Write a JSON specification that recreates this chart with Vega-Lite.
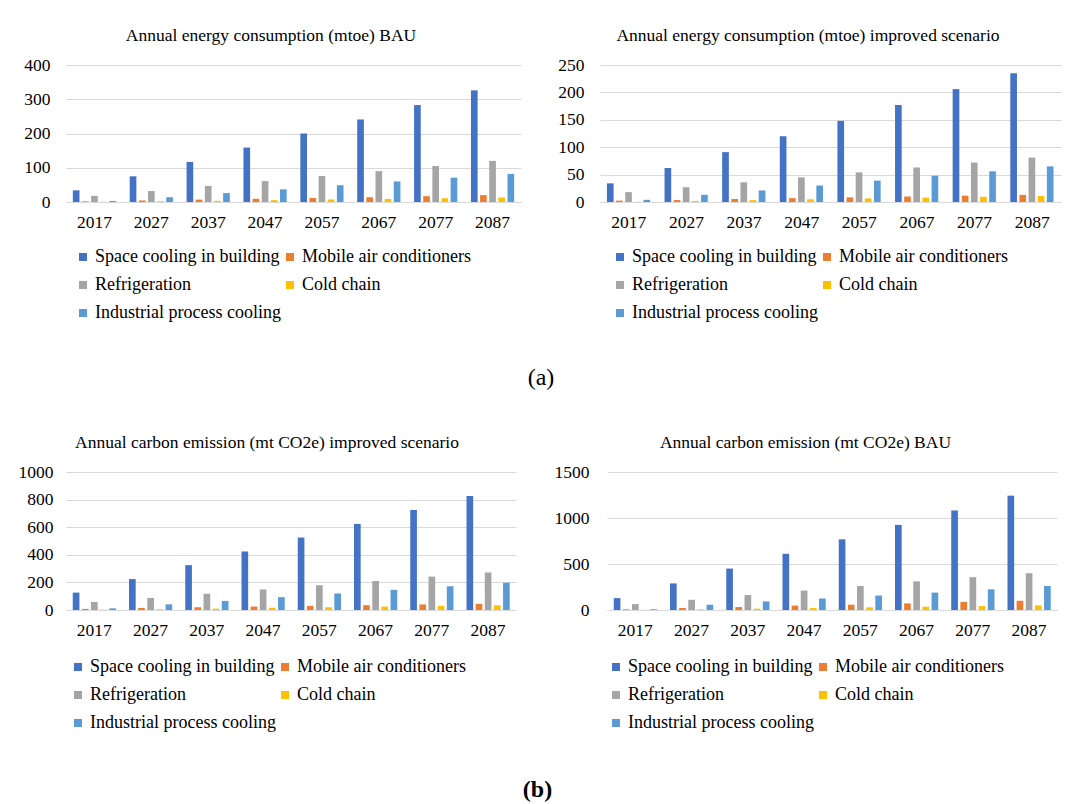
{
  "$schema": "https://vega.github.io/schema/vega-lite/v6.json",
  "background": "white",
  "padding": {"left": 18, "top": 26, "right": 6, "bottom": 0},
  "datasets": {
    "bau_energy": [
      {"year": "2017", "cat": "Space cooling in building", "v": 34}, {"year": "2027", "cat": "Space cooling in building", "v": 75}, {"year": "2037", "cat": "Space cooling in building", "v": 117}, {"year": "2047", "cat": "Space cooling in building", "v": 159}, {"year": "2057", "cat": "Space cooling in building", "v": 200}, {"year": "2067", "cat": "Space cooling in building", "v": 241}, {"year": "2077", "cat": "Space cooling in building", "v": 283}, {"year": "2087", "cat": "Space cooling in building", "v": 326},
      {"year": "2017", "cat": "Mobile air conditioners", "v": 2}, {"year": "2027", "cat": "Mobile air conditioners", "v": 4.5}, {"year": "2037", "cat": "Mobile air conditioners", "v": 7}, {"year": "2047", "cat": "Mobile air conditioners", "v": 9.5}, {"year": "2057", "cat": "Mobile air conditioners", "v": 12}, {"year": "2067", "cat": "Mobile air conditioners", "v": 14}, {"year": "2077", "cat": "Mobile air conditioners", "v": 17}, {"year": "2087", "cat": "Mobile air conditioners", "v": 20},
      {"year": "2017", "cat": "Refrigeration", "v": 18}, {"year": "2027", "cat": "Refrigeration", "v": 32}, {"year": "2037", "cat": "Refrigeration", "v": 47}, {"year": "2047", "cat": "Refrigeration", "v": 61}, {"year": "2057", "cat": "Refrigeration", "v": 76}, {"year": "2067", "cat": "Refrigeration", "v": 90}, {"year": "2077", "cat": "Refrigeration", "v": 105}, {"year": "2087", "cat": "Refrigeration", "v": 120},
      {"year": "2017", "cat": "Cold chain", "v": 0.5}, {"year": "2027", "cat": "Cold chain", "v": 2}, {"year": "2037", "cat": "Cold chain", "v": 3.5}, {"year": "2047", "cat": "Cold chain", "v": 5.5}, {"year": "2057", "cat": "Cold chain", "v": 7.5}, {"year": "2067", "cat": "Cold chain", "v": 9}, {"year": "2077", "cat": "Cold chain", "v": 11}, {"year": "2087", "cat": "Cold chain", "v": 13},
      {"year": "2017", "cat": "Industrial process cooling", "v": 3}, {"year": "2027", "cat": "Industrial process cooling", "v": 14}, {"year": "2037", "cat": "Industrial process cooling", "v": 26}, {"year": "2047", "cat": "Industrial process cooling", "v": 37}, {"year": "2057", "cat": "Industrial process cooling", "v": 49}, {"year": "2067", "cat": "Industrial process cooling", "v": 60}, {"year": "2077", "cat": "Industrial process cooling", "v": 71}, {"year": "2087", "cat": "Industrial process cooling", "v": 82}
    ],
    "imp_energy": [
      {"year": "2017", "cat": "Space cooling in building", "v": 34}, {"year": "2027", "cat": "Space cooling in building", "v": 62}, {"year": "2037", "cat": "Space cooling in building", "v": 91}, {"year": "2047", "cat": "Space cooling in building", "v": 120}, {"year": "2057", "cat": "Space cooling in building", "v": 148}, {"year": "2067", "cat": "Space cooling in building", "v": 177}, {"year": "2077", "cat": "Space cooling in building", "v": 206}, {"year": "2087", "cat": "Space cooling in building", "v": 235},
      {"year": "2017", "cat": "Mobile air conditioners", "v": 2.5}, {"year": "2027", "cat": "Mobile air conditioners", "v": 3.5}, {"year": "2037", "cat": "Mobile air conditioners", "v": 5.5}, {"year": "2047", "cat": "Mobile air conditioners", "v": 7}, {"year": "2057", "cat": "Mobile air conditioners", "v": 8.5}, {"year": "2067", "cat": "Mobile air conditioners", "v": 10}, {"year": "2077", "cat": "Mobile air conditioners", "v": 11.5}, {"year": "2087", "cat": "Mobile air conditioners", "v": 13},
      {"year": "2017", "cat": "Refrigeration", "v": 18}, {"year": "2027", "cat": "Refrigeration", "v": 27}, {"year": "2037", "cat": "Refrigeration", "v": 36}, {"year": "2047", "cat": "Refrigeration", "v": 45}, {"year": "2057", "cat": "Refrigeration", "v": 54}, {"year": "2067", "cat": "Refrigeration", "v": 63}, {"year": "2077", "cat": "Refrigeration", "v": 72}, {"year": "2087", "cat": "Refrigeration", "v": 81},
      {"year": "2017", "cat": "Cold chain", "v": 0.5}, {"year": "2027", "cat": "Cold chain", "v": 2}, {"year": "2037", "cat": "Cold chain", "v": 3.5}, {"year": "2047", "cat": "Cold chain", "v": 5}, {"year": "2057", "cat": "Cold chain", "v": 6.5}, {"year": "2067", "cat": "Cold chain", "v": 8}, {"year": "2077", "cat": "Cold chain", "v": 9.5}, {"year": "2087", "cat": "Cold chain", "v": 11},
      {"year": "2017", "cat": "Industrial process cooling", "v": 4}, {"year": "2027", "cat": "Industrial process cooling", "v": 13}, {"year": "2037", "cat": "Industrial process cooling", "v": 21}, {"year": "2047", "cat": "Industrial process cooling", "v": 30}, {"year": "2057", "cat": "Industrial process cooling", "v": 39}, {"year": "2067", "cat": "Industrial process cooling", "v": 48}, {"year": "2077", "cat": "Industrial process cooling", "v": 56}, {"year": "2087", "cat": "Industrial process cooling", "v": 65}
    ],
    "imp_carbon": [
      {"year": "2017", "cat": "Space cooling in building", "v": 126}, {"year": "2027", "cat": "Space cooling in building", "v": 224}, {"year": "2037", "cat": "Space cooling in building", "v": 325}, {"year": "2047", "cat": "Space cooling in building", "v": 424}, {"year": "2057", "cat": "Space cooling in building", "v": 525}, {"year": "2067", "cat": "Space cooling in building", "v": 624}, {"year": "2077", "cat": "Space cooling in building", "v": 725}, {"year": "2087", "cat": "Space cooling in building", "v": 826},
      {"year": "2017", "cat": "Mobile air conditioners", "v": 8}, {"year": "2027", "cat": "Mobile air conditioners", "v": 15}, {"year": "2037", "cat": "Mobile air conditioners", "v": 20}, {"year": "2047", "cat": "Mobile air conditioners", "v": 25}, {"year": "2057", "cat": "Mobile air conditioners", "v": 30}, {"year": "2067", "cat": "Mobile air conditioners", "v": 35}, {"year": "2077", "cat": "Mobile air conditioners", "v": 40}, {"year": "2087", "cat": "Mobile air conditioners", "v": 45},
      {"year": "2017", "cat": "Refrigeration", "v": 58}, {"year": "2027", "cat": "Refrigeration", "v": 87}, {"year": "2037", "cat": "Refrigeration", "v": 118}, {"year": "2047", "cat": "Refrigeration", "v": 149}, {"year": "2057", "cat": "Refrigeration", "v": 180}, {"year": "2067", "cat": "Refrigeration", "v": 210}, {"year": "2077", "cat": "Refrigeration", "v": 242}, {"year": "2087", "cat": "Refrigeration", "v": 272},
      {"year": "2017", "cat": "Cold chain", "v": 2}, {"year": "2027", "cat": "Cold chain", "v": 5}, {"year": "2037", "cat": "Cold chain", "v": 10}, {"year": "2047", "cat": "Cold chain", "v": 16}, {"year": "2057", "cat": "Cold chain", "v": 20}, {"year": "2067", "cat": "Cold chain", "v": 25}, {"year": "2077", "cat": "Cold chain", "v": 30}, {"year": "2087", "cat": "Cold chain", "v": 34},
      {"year": "2017", "cat": "Industrial process cooling", "v": 12}, {"year": "2027", "cat": "Industrial process cooling", "v": 41}, {"year": "2037", "cat": "Industrial process cooling", "v": 66}, {"year": "2047", "cat": "Industrial process cooling", "v": 93}, {"year": "2057", "cat": "Industrial process cooling", "v": 120}, {"year": "2067", "cat": "Industrial process cooling", "v": 146}, {"year": "2077", "cat": "Industrial process cooling", "v": 172}, {"year": "2087", "cat": "Industrial process cooling", "v": 198}
    ],
    "bau_carbon": [
      {"year": "2017", "cat": "Space cooling in building", "v": 129}, {"year": "2027", "cat": "Space cooling in building", "v": 289}, {"year": "2037", "cat": "Space cooling in building", "v": 450}, {"year": "2047", "cat": "Space cooling in building", "v": 611}, {"year": "2057", "cat": "Space cooling in building", "v": 768}, {"year": "2067", "cat": "Space cooling in building", "v": 925}, {"year": "2077", "cat": "Space cooling in building", "v": 1082}, {"year": "2087", "cat": "Space cooling in building", "v": 1243},
      {"year": "2017", "cat": "Mobile air conditioners", "v": 8}, {"year": "2027", "cat": "Mobile air conditioners", "v": 22}, {"year": "2037", "cat": "Mobile air conditioners", "v": 32}, {"year": "2047", "cat": "Mobile air conditioners", "v": 48}, {"year": "2057", "cat": "Mobile air conditioners", "v": 58}, {"year": "2067", "cat": "Mobile air conditioners", "v": 72}, {"year": "2077", "cat": "Mobile air conditioners", "v": 88}, {"year": "2087", "cat": "Mobile air conditioners", "v": 100},
      {"year": "2017", "cat": "Refrigeration", "v": 64}, {"year": "2027", "cat": "Refrigeration", "v": 111}, {"year": "2037", "cat": "Refrigeration", "v": 162}, {"year": "2047", "cat": "Refrigeration", "v": 211}, {"year": "2057", "cat": "Refrigeration", "v": 261}, {"year": "2067", "cat": "Refrigeration", "v": 311}, {"year": "2077", "cat": "Refrigeration", "v": 357}, {"year": "2087", "cat": "Refrigeration", "v": 400},
      {"year": "2017", "cat": "Cold chain", "v": 2}, {"year": "2027", "cat": "Cold chain", "v": 7}, {"year": "2037", "cat": "Cold chain", "v": 15}, {"year": "2047", "cat": "Cold chain", "v": 22}, {"year": "2057", "cat": "Cold chain", "v": 29}, {"year": "2067", "cat": "Cold chain", "v": 36}, {"year": "2077", "cat": "Cold chain", "v": 43}, {"year": "2087", "cat": "Cold chain", "v": 50},
      {"year": "2017", "cat": "Industrial process cooling", "v": 8}, {"year": "2027", "cat": "Industrial process cooling", "v": 57}, {"year": "2037", "cat": "Industrial process cooling", "v": 93}, {"year": "2047", "cat": "Industrial process cooling", "v": 125}, {"year": "2057", "cat": "Industrial process cooling", "v": 157}, {"year": "2067", "cat": "Industrial process cooling", "v": 189}, {"year": "2077", "cat": "Industrial process cooling", "v": 225}, {"year": "2087", "cat": "Industrial process cooling", "v": 261}
    ]
  },
  "vconcat": [
    {
      "title": {"text": "(a)", "orient": "bottom", "anchor": "middle", "fontSize": 24, "offset": 33},
      "spacing": 34,
      "hconcat": [
        {
          "title": "Annual energy consumption (mtoe) BAU",
          "width": 455, "height": 137,
          "data": {"name": "bau_energy"},
          "mark": {"type": "bar"},
          "encoding": {
            "x": {"field": "year", "type": "nominal", "scale": {"paddingInner": 0.24, "paddingOuter": 0.12}},
            "xOffset": {"field": "cat", "type": "nominal", "sort": ["Space cooling in building", "Mobile air conditioners", "Refrigeration", "Cold chain", "Industrial process cooling"], "scale": {"paddingInner": 0.27, "paddingOuter": 0}},
            "y": {"field": "v", "type": "quantitative", "scale": {"domain": [0, 400]}, "axis": {"values": [0, 100, 200, 300, 400], "format": "d"}},
            "color": {"field": "cat", "type": "nominal", "scale": {"domain": ["Space cooling in building", "Mobile air conditioners", "Refrigeration", "Cold chain", "Industrial process cooling"], "range": ["#4472C4", "#ED7D31", "#A5A5A5", "#FFC000", "#5B9BD5"]}, "legend": {"padding": 8, "offset": 9}}
          }
        },
        {
          "title": "Annual energy consumption (mtoe) improved scenario",
          "width": 461, "height": 137,
          "data": {"name": "imp_energy"},
          "mark": {"type": "bar"},
          "encoding": {
            "x": {"field": "year", "type": "nominal", "scale": {"paddingInner": 0.24, "paddingOuter": 0.12}},
            "xOffset": {"field": "cat", "type": "nominal", "sort": ["Space cooling in building", "Mobile air conditioners", "Refrigeration", "Cold chain", "Industrial process cooling"], "scale": {"paddingInner": 0.27, "paddingOuter": 0}},
            "y": {"field": "v", "type": "quantitative", "scale": {"domain": [0, 250]}, "axis": {"values": [0, 50, 100, 150, 200, 250], "format": "d"}},
            "color": {"field": "cat", "type": "nominal", "scale": {"domain": ["Space cooling in building", "Mobile air conditioners", "Refrigeration", "Cold chain", "Industrial process cooling"], "range": ["#4472C4", "#ED7D31", "#A5A5A5", "#FFC000", "#5B9BD5"]}, "legend": {"padding": 11, "offset": 6}}
          }
        }
      ],
      "resolve": {"scale": {"y": "independent", "x": "independent", "color": "independent"}, "legend": {"color": "independent"}}
    },
    {
      "title": {"text": "(b)", "orient": "bottom", "anchor": "middle", "fontSize": 24, "fontWeight": "bold", "offset": 43},
      "spacing": 38,
      "hconcat": [
        {
          "title": "Annual carbon emission (mt CO2e) improved scenario",
          "width": 450, "height": 138,
          "data": {"name": "imp_carbon"},
          "mark": {"type": "bar"},
          "encoding": {
            "x": {"field": "year", "type": "nominal", "scale": {"paddingInner": 0.24, "paddingOuter": 0.12}},
            "xOffset": {"field": "cat", "type": "nominal", "sort": ["Space cooling in building", "Mobile air conditioners", "Refrigeration", "Cold chain", "Industrial process cooling"], "scale": {"paddingInner": 0.27, "paddingOuter": 0}},
            "y": {"field": "v", "type": "quantitative", "scale": {"domain": [0, 1000]}, "axis": {"values": [0, 200, 400, 600, 800, 1000], "format": "d", "labelPadding": 13}},
            "color": {"field": "cat", "type": "nominal", "scale": {"domain": ["Space cooling in building", "Mobile air conditioners", "Refrigeration", "Cold chain", "Industrial process cooling"], "range": ["#4472C4", "#ED7D31", "#A5A5A5", "#FFC000", "#5B9BD5"]}, "legend": {"padding": 3, "offset": 16}}
          }
        },
        {
          "title": "Annual carbon emission (mt CO2e) BAU",
          "width": 450, "height": 138,
          "data": {"name": "bau_carbon"},
          "mark": {"type": "bar"},
          "encoding": {
            "x": {"field": "year", "type": "nominal", "scale": {"paddingInner": 0.24, "paddingOuter": 0.12}},
            "xOffset": {"field": "cat", "type": "nominal", "sort": ["Space cooling in building", "Mobile air conditioners", "Refrigeration", "Cold chain", "Industrial process cooling"], "scale": {"paddingInner": 0.27, "paddingOuter": 0}},
            "y": {"field": "v", "type": "quantitative", "scale": {"domain": [0, 1500]}, "axis": {"values": [0, 500, 1000, 1500], "format": "d", "labelPadding": 18}},
            "color": {"field": "cat", "type": "nominal", "scale": {"domain": ["Space cooling in building", "Mobile air conditioners", "Refrigeration", "Cold chain", "Industrial process cooling"], "range": ["#4472C4", "#ED7D31", "#A5A5A5", "#FFC000", "#5B9BD5"]}, "legend": {"padding": 0, "offset": 19}}
          }
        }
      ],
      "resolve": {"scale": {"y": "independent", "x": "independent", "color": "independent"}, "legend": {"color": "independent"}}
    }
  ],
  "spacing": 43,
  "resolve": {"scale": {"y": "independent", "x": "independent", "color": "independent"}, "legend": {"color": "independent"}},
  "config": {
    "font": "Liberation Serif",
    "view": {"stroke": null},
    "axis": {"labelFont": "Liberation Serif", "labelFontSize": 17.5, "labelColor": "#000000", "ticks": false, "title": null, "gridColor": "#d9d9d9", "domainColor": "#d9d9d9"},
    "axisX": {"grid": false, "labelAngle": 0, "domain": true, "labelPadding": 11},
    "axisY": {"domain": false, "grid": true, "minExtent": 45, "labelPadding": 16},
    "legend": {"orient": "bottom", "columns": 2, "symbolType": "square", "symbolSize": 64, "symbolStrokeWidth": 0, "labelFont": "Liberation Serif", "labelFontSize": 18, "labelColor": "#000000", "title": null, "rowPadding": 10, "columnPadding": 0, "labelOffset": 3, "labelLimit": 400, "layout": {"bottom": {"anchor": "start"}}},
    "title": {"font": "Liberation Serif", "fontSize": 17.5, "fontWeight": "normal", "color": "#000000", "offset": 12, "frame": "bounds", "anchor": "middle"}
  }
}
